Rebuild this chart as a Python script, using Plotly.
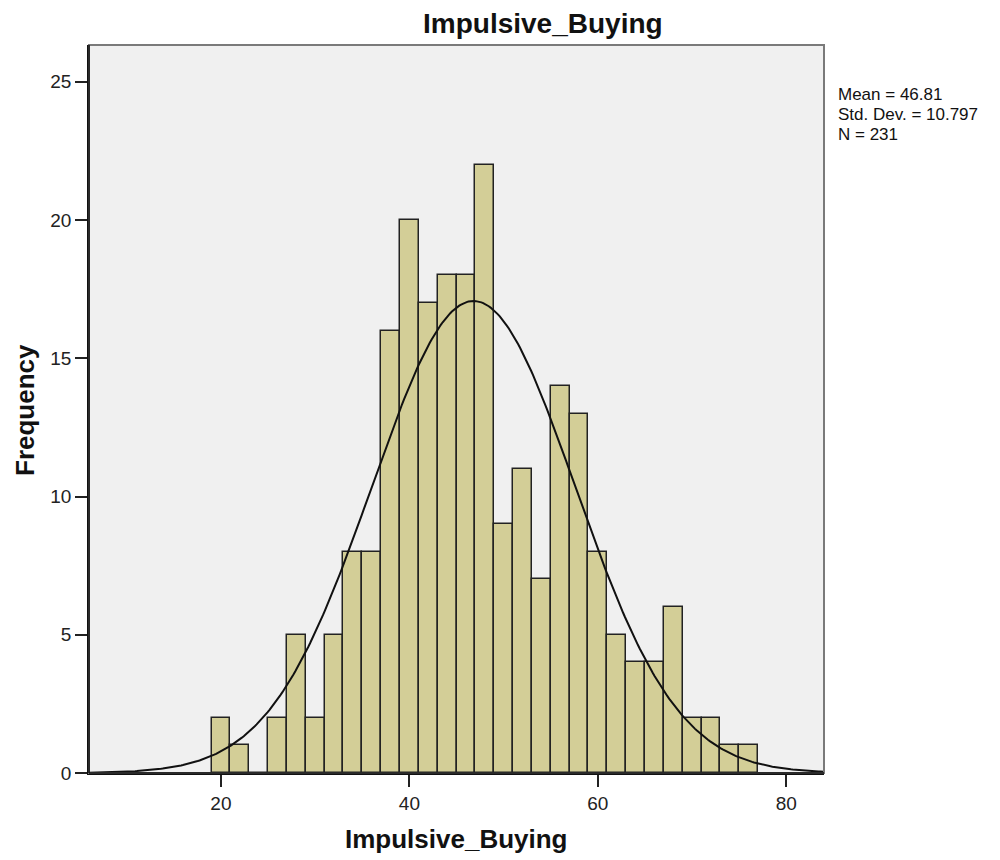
import numpy as np
import plotly.graph_objects as go

# ---- data ----
bin_left = [19, 21, 23, 25, 27, 29, 31, 33, 35, 37, 39, 41, 43, 45, 47,
            49, 51, 53, 55, 57, 59, 61, 63, 65, 67, 69, 71, 73, 75]
counts = [2, 1, 0, 2, 5, 2, 5, 8, 8, 16, 20, 17, 18, 18, 22,
          9, 11, 7, 14, 13, 8, 5, 4, 4, 6, 2, 2, 1, 1]
bin_width = 2
mean_val = 46.81
sd_val = 10.797
n_val = 231
x_ticks = [20, 40, 60, 80]
y_ticks = [0, 5, 10, 15, 20, 25]
title_text = "Impulsive_Buying"
x_title = "Impulsive_Buying"
y_title = "Frequency"
stats_lines = ["Mean = 46.81", "Std. Dev. = 10.797", "N = 231"]

x_range = [6, 84]
y_range = [0, 26.33]

centers = [b + bin_width / 2 for b in bin_left]

# fitted normal curve from the stated mean / sd / N
xc = np.linspace(x_range[0], x_range[1], 400)
yc = n_val * bin_width / (sd_val * np.sqrt(2 * np.pi)) * np.exp(-0.5 * ((xc - mean_val) / sd_val) ** 2)

FONT = "Liberation Sans, Arial, sans-serif"

fig = go.Figure()
fig.add_trace(go.Bar(
    x=centers, y=counts, width=bin_width,
    marker=dict(color="#D3CE97", line=dict(color="#222222", width=1.5)),
    hoverinfo="x+y", showlegend=False,
))
fig.add_trace(go.Scatter(
    x=xc, y=yc, mode="lines",
    line=dict(color="#111111", width=2), showlegend=False, hoverinfo="skip",
))

# page body has an 8px margin; compensate so plot area lands at
# x 89..824, y 45..773 in the 1000x860 window
fig.update_layout(
    width=992, height=852,
    margin=dict(l=81, r=176, t=37, b=87),
    paper_bgcolor="white", plot_bgcolor="#F0F0F0",
    bargap=0,
    font=dict(family=FONT, color="#222222"),
    xaxis=dict(range=x_range, tickvals=x_ticks, showgrid=False, zeroline=False,
               showline=True, linecolor="#111111", linewidth=1.5,
               ticks="outside", ticklen=12, tickcolor="#222222", tickwidth=1.5,
               tickfont=dict(size=19, family=FONT, color="#222222")),
    yaxis=dict(range=y_range, tickvals=y_ticks, showgrid=False, zeroline=False,
               showline=True, linecolor="#111111", linewidth=1.5,
               ticks="outside", ticklen=12, tickcolor="#222222", tickwidth=1.5,
               tickfont=dict(size=19, family=FONT, color="#222222")),
    shapes=[dict(type="rect", xref="paper", yref="paper", x0=0, x1=1, y0=0, y1=1,
                 line=dict(color="#7a7a7a", width=2), layer="above")],
)

# black left/bottom lines on top of grey frame
fig.add_shape(type="line", xref="paper", yref="paper", x0=0, x1=0, y0=0, y1=1,
              line=dict(color="#111111", width=1.5), layer="above")
fig.add_shape(type="line", xref="paper", yref="paper", x0=0, x1=1, y0=0, y1=0,
              line=dict(color="#111111", width=1.5), layer="above")

plot_left, plot_right, plot_top, plot_bottom = 89, 824, 45, 773
pw = plot_right - plot_left
ph = plot_bottom - plot_top

def px_to_paper(xp, yp):
    return (xp - plot_left) / pw, (plot_bottom - yp) / ph

tx, ty = px_to_paper(543, 23)
fig.add_annotation(text=f"<b>{title_text}</b>", x=tx, y=ty, xref="paper", yref="paper",
                   showarrow=False, xanchor="center", yanchor="middle",
                   font=dict(size=28, family=FONT, color="#111111"))
ax, ay = px_to_paper(456, 839)
fig.add_annotation(text=f"<b>{x_title}</b>", x=ax, y=ay, xref="paper", yref="paper",
                   showarrow=False, xanchor="center", yanchor="middle",
                   font=dict(size=26, family=FONT, color="#111111"))
yx, yy = px_to_paper(25, 410)
fig.add_annotation(text=f"<b>{y_title}</b>", x=yx, y=yy, xref="paper", yref="paper",
                   showarrow=False, xanchor="center", yanchor="middle", textangle=-90,
                   font=dict(size=26, family=FONT, color="#111111"))

for i, line in enumerate(stats_lines):
    sx, sy = px_to_paper(836, 94.5 + i * 20)
    fig.add_annotation(text=line, x=sx, y=sy, xref="paper", yref="paper",
                       showarrow=False, xanchor="left", yanchor="middle",
                       font=dict(size=17, family=FONT, color="#111111"))

fig.write_html("out.html")
